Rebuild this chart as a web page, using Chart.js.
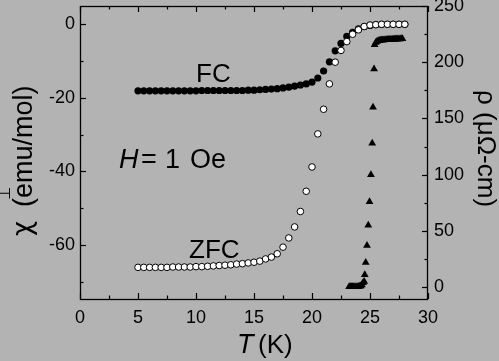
<!DOCTYPE html>
<html>
<head>
<meta charset="utf-8">
<script src="https://cdn.jsdelivr.net/npm/chart.js@4/dist/chart.umd.min.js"></script>
<style>
  html, body { margin: 0; padding: 0; background: #b3b3b3; }
  canvas { display: block; }
</style>
</head>
<body>
<canvas id="c" width="499" height="361"></canvas>
<script>
// ---- data ----
const temps = [5, 5.5, 6, 6.5, 7, 7.5, 8, 8.5, 9, 9.5, 10, 10.5, 11, 11.5, 12, 12.5, 13, 13.5, 14, 14.5,
  15, 15.5, 16, 16.5, 17, 17.5, 18, 18.5, 19, 19.5, 20, 20.5, 21, 21.5, 22, 22.5, 23, 23.5, 24, 24.5,
  25, 25.5, 26, 26.5, 27, 27.5, 28];
const chiZFC = [-66.1, -66.1, -66.1, -66.1, -66.1, -66.1, -66.0, -66.0, -66.0, -66.0, -65.9, -65.9, -65.8, -65.7, -65.6, -65.5, -65.4, -65.2, -65.1, -64.9,
  -64.7, -64.4, -63.8, -63.3, -62.4, -60.6, -58.1, -55.1, -50.9, -45.4, -38.8, -29.8, -23.1, -16.2, -10.3, -7.1, -4.7, -2.7, -1.5, -0.6,
  -0.2, -0.1, 0, 0, 0, 0, 0];
const chiFC = [-18.1, -18.1, -18.1, -18.1, -18.1, -18.1, -18.1, -18.1, -18.1, -18.1, -18.1, -18.0, -18.0, -18.0, -18.0, -18.0, -18.0, -18.0, -18.0, -17.9,
  -17.9, -17.8, -17.7, -17.6, -17.5, -17.3, -17.1, -16.8, -16.5, -16.2, -15.7, -14.6, -12.7, -10.2, -7.2, -5.2, -3.3, -2.2, -1.2, -0.6,
  -0.3, -0.1, 0, 0, 0, 0, 0];
const rhoT = [23.2, 23.3, 23.4, 23.5, 23.6, 23.7, 23.8, 23.9, 24.0, 24.1, 24.2, 24.3, 24.4, 24.5, 24.55, 24.63, 24.74, 24.85, 24.96, 25.08,
  25.19, 25.26, 25.35, 25.4, 25.5, 25.6, 25.7, 25.8, 25.9, 26.0, 26.1, 26.2, 26.3, 26.4, 26.5, 26.6, 26.7, 26.8, 26.9, 27.0,
  27.1, 27.2, 27.3, 27.4, 27.5, 27.6, 27.7, 27.8];
const rhoVals = [0.5, 0.5, 0.5, 0.5, 0.5, 0.5, 0.5, 0.5, 0.5, 0.8, 1, 2, 4, 5, 11, 22, 37, 55, 76, 100,
  128, 160, 194, 215.5, 217.5, 218.5, 219, 219.3, 219.5, 219.6, 219.7, 219.8, 219.9, 220, 220.1, 220.2, 220.3, 220.3, 220.4, 220.4,
  220.5, 220.5, 220.6, 220.6, 220.7, 220.7, 220.8, 220.8];

const xTicks = [0, 5, 10, 15, 20, 25, 30];
const xMinorTicks = [2.5, 7.5, 12.5, 17.5, 22.5, 27.5];
const yTicks = [0, -20, -40, -60];
const yMinorTicks = [-10, -30, -50, -70];
const y2Ticks = [0, 50, 100, 150, 200, 250];
const y2MinorTicks = [25, 75, 125, 175, 225];
const xTickLabels = ['0', '5', '10', '15', '20', '25', '30'];
const yTickLabels = ['0', '-20', '-40', '-60'];
const y2TickLabels = ['0', '50', '100', '150', '200', '250'];

const FONT = '"Liberation Sans", Arial, Helvetica, sans-serif';
const BG = '#b3b3b3';

const bgPlugin = {
  id: 'bg',
  beforeDraw(chart) {
    const ctx = chart.ctx;
    ctx.save();
    ctx.fillStyle = BG;
    ctx.fillRect(0, 0, chart.width, chart.height);
    ctx.restore();
  }
};

const framePlugin = {
  id: 'frame',
  afterDatasetsDraw(chart) {
    const { ctx, chartArea: a, scales } = chart;
    ctx.save();
    ctx.strokeStyle = '#000';
    ctx.lineWidth = 1.3;
    ctx.strokeRect(a.left + 0.5, a.top + 0.5, a.right - a.left - 1, a.bottom - a.top);
    ctx.lineWidth = 1.2;
    const seg = (x1, y1, x2, y2) => { ctx.beginPath(); ctx.moveTo(x1, y1); ctx.lineTo(x2, y2); ctx.stroke(); };
    const xt = (vals, len) => vals.forEach(v => {
      const p = Math.round(scales.x.getPixelForValue(v)) + 0.5;
      seg(p, a.bottom, p, a.bottom - len);
      seg(p, a.top, p, a.top + len);
    });
    xt(xTicks, 6); xt(xMinorTicks, 3.5);
    const yt = (vals, len) => vals.forEach(v => {
      const p = Math.round(scales.y.getPixelForValue(v)) + 0.5;
      seg(a.left, p, a.left + len, p);
    });
    yt(yTicks, 6); yt(yMinorTicks, 3.5);
    const y2t = (vals, len) => vals.forEach(v => {
      const p = Math.round(scales.y2.getPixelForValue(v)) + 0.5;
      seg(a.right, p, a.right - len, p);
    });
    y2t(y2Ticks, 6); y2t(y2MinorTicks, 3.5);
    ctx.restore();
  }
};

const textPlugin = {
  id: 'texts',
  afterDraw(chart) {
    const ctx = chart.ctx;
    ctx.save();
    ctx.fillStyle = '#000';
    ctx.textBaseline = 'alphabetic';
    ctx.textAlign = 'left';
    // annotations
    ctx.font = '26px ' + FONT;
    ctx.fillText('FC', 196, 82);
    ctx.fillText('ZFC', 189, 258);
    ctx.font = 'italic 27px ' + FONT;
    ctx.fillText('H', 119, 168);
    ctx.font = '27px ' + FONT;
    ctx.fillText('=', 141, 168);
    ctx.fillText('1', 165, 168);
    ctx.fillText('Oe', 190, 168);
    // x title
    ctx.font = 'italic 27px ' + FONT;
    ctx.fillText('T', 237, 353);
    ctx.font = '26px ' + FONT;
    ctx.fillText('(K)', 258, 353);
    // left title (rotated, reads bottom to top)
    ctx.save();
    ctx.translate(32, 237);
    ctx.rotate(-Math.PI / 2);
    ctx.font = '26px "DejaVu Sans", sans-serif';
    ctx.fillText('χ', 1, -1);
    ctx.font = '27px ' + FONT;
    ctx.fillText('(emu/mol)', 30, 0);
    ctx.font = '15px "DejaVu Sans", sans-serif';
    ctx.fillText('⊥', 37, -22);
    ctx.restore();
    // right title (rotated, reads top to bottom)
    ctx.save();
    ctx.translate(478, 90);
    ctx.rotate(Math.PI / 2);
    ctx.font = '26px ' + FONT;
    ctx.fillText('ρ (μΩ-cm)', 0, 0);
    ctx.restore();
    ctx.restore();
  }
};

const tickFont = { family: FONT, size: 18 };
const noPadY = s => { s.paddingTop = 0; s.paddingBottom = 0; };
const noPadX = s => { s.paddingLeft = 0; s.paddingRight = 0; };

new Chart(document.getElementById('c'), {
  type: 'scatter',
  data: {
    datasets: [
      {
        label: 'ZFC',
        data: temps.map((t, i) => ({ x: t, y: chiZFC[i] })),
        yAxisID: 'y',
        pointStyle: 'circle',
        pointRadius: 3.3,
        backgroundColor: '#ffffff',
        borderColor: '#000000',
        borderWidth: 1,
        order: 1
      },
      {
        label: 'FC',
        data: temps.map((t, i) => ({ x: t, y: chiFC[i] })),
        yAxisID: 'y',
        pointStyle: 'circle',
        pointRadius: 3.6,
        backgroundColor: '#000000',
        borderColor: '#000000',
        borderWidth: 0,
        order: 2
      },
      {
        label: 'rho',
        data: rhoT.map((t, i) => ({ x: t, y: rhoVals[i] })),
        yAxisID: 'y2',
        pointStyle: 'triangle',
        pointRadius: 4.5,
        backgroundColor: '#000000',
        borderColor: '#000000',
        borderWidth: 0,
        order: 3
      }
    ]
  },
  options: {
    responsive: false,
    animation: false,
    devicePixelRatio: 1,
    layout: { padding: { top: 6, left: 0, right: 0, bottom: 0 } },
    plugins: { legend: { display: false }, tooltip: { enabled: false } },
    events: [],
    scales: {
      x: {
        type: 'linear', min: 0, max: 30, position: 'bottom',
        grid: { display: false, drawTicks: false },
        border: { display: false },
        afterBuildTicks: s => { s.ticks = xTicks.map(v => ({ value: v })); },
        afterFit: s => { s.height = 62; noPadX(s); },
        ticks: { font: tickFont, color: '#000', padding: 8, maxRotation: 0,
          callback: (v) => xTickLabels[xTicks.indexOf(v)] }
      },
      y: {
        type: 'linear', min: -74.7, max: 4.98, position: 'left',
        grid: { display: false, drawTicks: false },
        border: { display: false },
        afterBuildTicks: s => { s.ticks = yTicks.map(v => ({ value: v })); },
        afterFit: s => { s.width = 80; noPadY(s); },
        ticks: { font: tickFont, color: '#000', padding: 5,
          callback: (v) => yTickLabels[yTicks.indexOf(v)] }
      },
      y2: {
        type: 'linear', min: -10.5, max: 250, position: 'right',
        grid: { display: false, drawTicks: false },
        border: { display: false },
        afterBuildTicks: s => { s.ticks = y2Ticks.map(v => ({ value: v })); },
        afterFit: s => { s.width = 71; noPadY(s); },
        ticks: { font: tickFont, color: '#000', padding: 6,
          callback: (v) => y2TickLabels[y2Ticks.indexOf(v)] }
      }
    }
  },
  plugins: [bgPlugin, framePlugin, textPlugin]
});
</script>
</body>
</html>
